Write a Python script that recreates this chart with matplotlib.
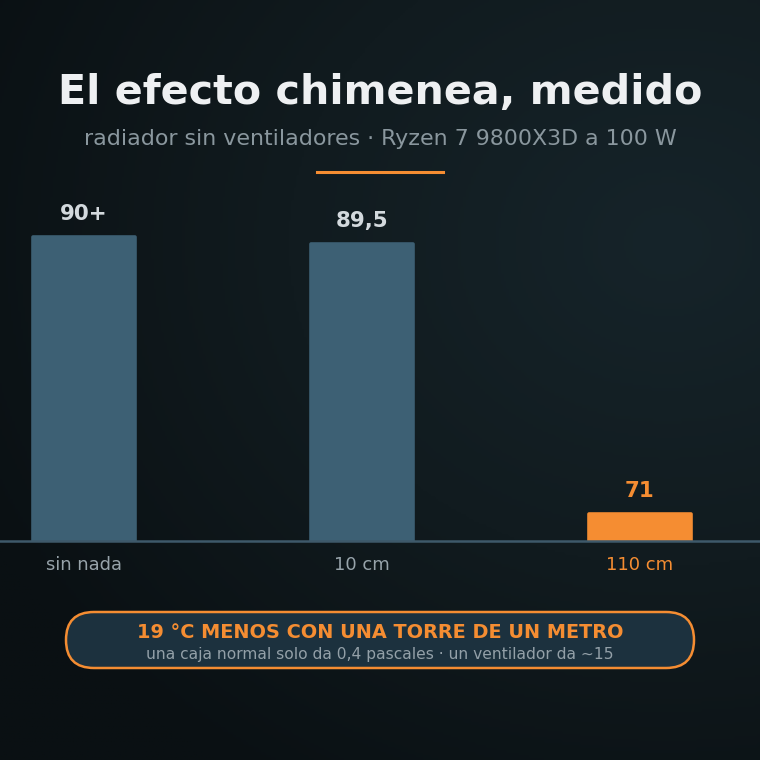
import numpy as np
import matplotlib
matplotlib.use("Agg")
import matplotlib.pyplot as plt
from matplotlib.patches import FancyBboxPatch
from matplotlib.colors import LinearSegmentedColormap

# ---- data ----
categories = ["sin nada", "10 cm", "110 cm"]
values = [90.0, 89.5, 71.0]
value_labels = ["90+", "89,5", "71"]
highlight = [False, False, True]

title = "El efecto chimenea, medido"
subtitle = "radiador sin ventiladores · Ryzen 7 9800X3D a 100 W"
callout_main = "19 °C MENOS CON UNA TORRE DE UN METRO"
callout_sub = "una caja normal solo da 0,4 pascales · un ventilador da ~15"

# ---- style ----
BAR = "#3d6074"
ORANGE = "#f58d32"
LABEL_LIGHT = "#d3d9dd"
GREY = "#97a3aa"
W = H = 760

plt.rcParams["font.family"] = ["DejaVu Sans"]
fig = plt.figure(figsize=(7.6, 7.6), dpi=100)

# background gradient
bg = fig.add_axes([0, 0, 1, 1])
yy, xx = np.mgrid[0:1:300j, 0:1:300j]
d = np.sqrt(((xx - 0.88) / 1.0) ** 2 + ((yy - 0.32) / 0.85) ** 2)
cmap = LinearSegmentedColormap.from_list("bg", ["#16242a", "#111b1f", "#0a1013"])
bg.imshow(np.clip(d / 1.0, 0, 1), cmap=cmap, extent=[0, 1, 0, 1], origin="upper",
          aspect="auto", vmin=0, vmax=1)
bg.axis("off")

# titles
fig.text(0.5, 1 - 93 / H, title, ha="center", va="center", fontsize=29.7,
         fontweight="bold", color="#eef0f2")
fig.text(0.5, 1 - 139 / H, subtitle, ha="center", va="center", fontsize=15.9,
         color="#8a979e")
fig.add_artist(plt.Line2D([317 / W, 443 / W], [1 - 172 / H] * 2, color=ORANGE, lw=2.2))

# main bar axes
base = 69.15
ppu = 14.6  # px per unit
ax_bottom_px = 541
ax_top_px = 181
ax = fig.add_axes([0, 1 - ax_bottom_px / H, 1, (ax_bottom_px - ax_top_px) / H])
ax.set_facecolor("none")
x = np.arange(len(categories))
colors = [ORANGE if h else BAR for h in highlight]
ax.bar(x, [v - base for v in values], bottom=base, width=0.37, color=colors,
       edgecolor=colors, linewidth=2.6, joinstyle="round", zorder=2)
ax.set_xlim(-84 / 278, 2 + 120 / 278)
ax.set_ylim(base, base + (ax_bottom_px - ax_top_px) / ppu)
for s in ["top", "left", "right"]:
    ax.spines[s].set_visible(False)
ax.spines["bottom"].set_color("#3e596a")
ax.spines["bottom"].set_linewidth(1.8)
ax.spines["bottom"].set_zorder(3)
ax.set_yticks([])
ax.set_xticks(x)
ax.set_xticklabels(categories, fontsize=12.9)
ax.tick_params(axis="x", length=0, pad=11)
for lab, h in zip(ax.get_xticklabels(), highlight):
    lab.set_color(ORANGE if h else GREY)

for xi, v, lbl, h in zip(x, values, value_labels, highlight):
    ax.annotate(lbl, (xi, v), xytext=(0, 16.5), textcoords="offset points",
                ha="center", va="center", fontsize=15.4, fontweight="bold",
                color=ORANGE if h else LABEL_LIGHT)

# callout pill
px0, py0, pw, ph = 66, 612, 628, 56
pill = FancyBboxPatch((px0 / W, 1 - (py0 + ph) / H), pw / W, ph / H,
                      boxstyle=f"round,pad=0,rounding_size={ph / 2 / H}",
                      transform=fig.transFigure, facecolor="#1c313e",
                      edgecolor=ORANGE, linewidth=1.8)
fig.add_artist(pill)
fig.text(0.5, 1 - 633 / H, callout_main, ha="center", va="center", fontsize=13.9,
         fontweight="bold", color=ORANGE)
fig.text(0.5, 1 - 655 / H, callout_sub, ha="center", va="center", fontsize=11.2,
         color="#93a0a8")

fig.savefig("out.png", dpi=100)
